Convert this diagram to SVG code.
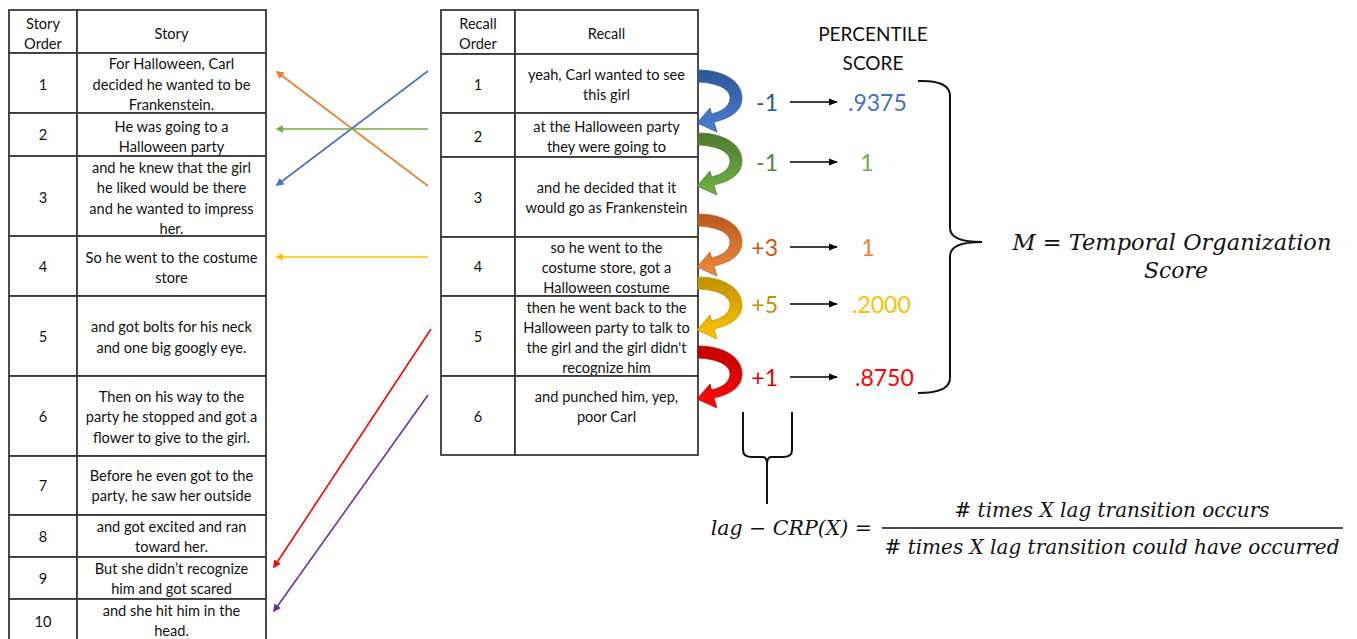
<svg xmlns="http://www.w3.org/2000/svg" width="1357" height="639" viewBox="0 0 1357 639">
<style>
.cell{fill:#fff;stroke:#3a3a3a;stroke-width:1.8}
.t{font-family:Lato,"Liberation Sans",sans-serif;font-size:14.6px;fill:#111;text-anchor:middle;dominant-baseline:central}
.lag{font-family:Lato,"Liberation Sans",sans-serif;font-size:23px;dominant-baseline:central}
.math{font-family:"DejaVu Serif","Liberation Serif",serif;font-style:italic;fill:#111}
.brace{fill:none;stroke:#111;stroke-width:2}
</style>
<defs>
<marker id="ah" viewBox="0 0 10 10" refX="8" refY="5" markerWidth="5" markerHeight="5" orient="auto" markerUnits="strokeWidth"><path d="M0,0 L10,5 L0,10 z" fill="context-stroke"/></marker>
<marker id="bk" viewBox="0 0 10 10" refX="9" refY="5" markerWidth="7" markerHeight="7" orient="auto" markerUnits="strokeWidth"><path d="M0,1 L10,5 L0,9 z" fill="#000"/></marker>
<path id="ca" d="M698,0 C725,0 742,12 742,28 C742,40 732,48 714,52 L717,62 L697,53 L710,38 L711.6,44 C724,41 730,35 730,28 C730,19 718,13 698,12 Z"/>
<linearGradient id="gB" x1="0" y1="0" x2="0" y2="1"><stop offset="0" stop-color="#2F5597"/><stop offset="1" stop-color="#4A80D8"/></linearGradient>
<linearGradient id="gG" x1="0" y1="0" x2="0" y2="1"><stop offset="0" stop-color="#4E7A2F"/><stop offset="1" stop-color="#70B344"/></linearGradient>
<linearGradient id="gO" x1="0" y1="0" x2="0" y2="1"><stop offset="0" stop-color="#B85A1E"/><stop offset="1" stop-color="#F08A3C"/></linearGradient>
<linearGradient id="gY" x1="0" y1="0" x2="0" y2="1"><stop offset="0" stop-color="#BF9000"/><stop offset="1" stop-color="#FFC400"/></linearGradient>
<linearGradient id="gR" x1="0" y1="0" x2="0" y2="1"><stop offset="0" stop-color="#C00000"/><stop offset="1" stop-color="#FF0A0A"/></linearGradient>
</defs>
<rect width="1357" height="639" fill="#fff"/>

<!-- Story table -->
<g id="story-header"><rect class="cell" x="9" y="10" width="68" height="43"/><rect class="cell" x="77" y="10" width="189" height="43"/>
<text class="t" x="43" y="23">Story</text><text class="t" x="43" y="43">Order</text><text class="t" x="171.5" y="33">Story</text></g>
<g id="story-1"><rect class="cell" x="9" y="53" width="68" height="60"/><rect class="cell" x="77" y="53" width="189" height="60"/>
<text class="t" x="43" y="84">1</text><text class="t" x="171.5" y="63">For Halloween, Carl</text><text class="t" x="171.5" y="84">decided he wanted to be</text><text class="t" x="171.5" y="104">Frankenstein.</text></g>
<g id="story-2"><rect class="cell" x="9" y="113" width="68" height="43"/><rect class="cell" x="77" y="113" width="189" height="43"/>
<text class="t" x="43" y="134">2</text><text class="t" x="171.5" y="126">He was going to a</text><text class="t" x="171.5" y="146">Halloween party</text></g>
<g id="story-3"><rect class="cell" x="9" y="156" width="68" height="80"/><rect class="cell" x="77" y="156" width="189" height="80"/>
<text class="t" x="43" y="197">3</text><text class="t" x="171.5" y="167">and he knew that the girl</text><text class="t" x="171.5" y="187">he liked would be there</text><text class="t" x="171.5" y="208">and he wanted to impress</text><text class="t" x="171.5" y="228">her.</text></g>
<g id="story-4"><rect class="cell" x="9" y="236" width="68" height="60"/><rect class="cell" x="77" y="236" width="189" height="60"/>
<text class="t" x="43" y="266">4</text><text class="t" x="171.5" y="257">So he went to the costume</text><text class="t" x="171.5" y="277">store</text></g>
<g id="story-5"><rect class="cell" x="9" y="296" width="68" height="80"/><rect class="cell" x="77" y="296" width="189" height="80"/>
<text class="t" x="43" y="336">5</text><text class="t" x="171.5" y="326">and got bolts for his neck</text><text class="t" x="171.5" y="347">and one big googly eye.</text></g>
<g id="story-6"><rect class="cell" x="9" y="376" width="68" height="80"/><rect class="cell" x="77" y="376" width="189" height="80"/>
<text class="t" x="43" y="416">6</text><text class="t" x="171.5" y="396">Then on his way to the</text><text class="t" x="171.5" y="416">party he stopped and got a</text><text class="t" x="171.5" y="437">flower to give to the girl.</text></g>
<g id="story-7"><rect class="cell" x="9" y="456" width="68" height="59"/><rect class="cell" x="77" y="456" width="189" height="59"/>
<text class="t" x="43" y="485">7</text><text class="t" x="171.5" y="475">Before he even got to the</text><text class="t" x="171.5" y="495">party, he saw her outside</text></g>
<g id="story-8"><rect class="cell" x="9" y="515" width="68" height="42"/><rect class="cell" x="77" y="515" width="189" height="42"/>
<text class="t" x="43" y="536">8</text><text class="t" x="171.5" y="526">and got excited and ran</text><text class="t" x="171.5" y="546">toward her.</text></g>
<g id="story-9"><rect class="cell" x="9" y="557" width="68" height="42"/><rect class="cell" x="77" y="557" width="189" height="42"/>
<text class="t" x="43" y="578">9</text><text class="t" x="171.5" y="568">But she didn’t recognize</text><text class="t" x="171.5" y="588">him and got scared</text></g>
<g id="story-10"><rect class="cell" x="9" y="599" width="68" height="50"/><rect class="cell" x="77" y="599" width="189" height="50"/>
<text class="t" x="43" y="621">10</text><text class="t" x="171.5" y="610">and she hit him in the</text><text class="t" x="171.5" y="630">head.</text></g>

<!-- Recall table -->
<g id="recall-header"><rect class="cell" x="441" y="10" width="74" height="44"/><rect class="cell" x="515" y="10" width="183" height="44"/>
<text class="t" x="478" y="23">Recall</text><text class="t" x="478" y="43">Order</text><text class="t" x="606.5" y="33">Recall</text></g>
<g id="recall-1"><rect class="cell" x="441" y="54" width="74" height="59"/><rect class="cell" x="515" y="54" width="183" height="59"/>
<text class="t" x="478" y="84">1</text><text class="t" x="606.5" y="74">yeah, Carl wanted to see</text><text class="t" x="606.5" y="94">this girl</text></g>
<g id="recall-2"><rect class="cell" x="441" y="113" width="74" height="44"/><rect class="cell" x="515" y="113" width="183" height="44"/>
<text class="t" x="478" y="136">2</text><text class="t" x="606.5" y="126">at the Halloween party</text><text class="t" x="606.5" y="146">they were going to</text></g>
<g id="recall-3"><rect class="cell" x="441" y="157" width="74" height="80"/><rect class="cell" x="515" y="157" width="183" height="80"/>
<text class="t" x="478" y="197">3</text><text class="t" x="606.5" y="187">and he decided that it</text><text class="t" x="606.5" y="207">would go as Frankenstein</text></g>
<g id="recall-4"><rect class="cell" x="441" y="237" width="74" height="59"/><rect class="cell" x="515" y="237" width="183" height="59"/>
<text class="t" x="478" y="266">4</text><text class="t" x="606.5" y="247">so he went to the</text><text class="t" x="606.5" y="267">costume store, got a</text><text class="t" x="606.5" y="287">Halloween costume</text></g>
<g id="recall-5"><rect class="cell" x="441" y="296" width="74" height="80"/><rect class="cell" x="515" y="296" width="183" height="80"/>
<text class="t" x="478" y="336">5</text><text class="t" x="606.5" y="307">then he went back to the</text><text class="t" x="606.5" y="327">Halloween party to talk to</text><text class="t" x="606.5" y="347">the girl and the girl didn't</text><text class="t" x="606.5" y="367">recognize him</text></g>
<g id="recall-6"><rect class="cell" x="441" y="376" width="74" height="79"/><rect class="cell" x="515" y="376" width="183" height="79"/>
<text class="t" x="478" y="416">6</text><text class="t" x="606.5" y="396">and punched him, yep,</text><text class="t" x="606.5" y="416">poor Carl</text></g>

<!-- Connectors -->
<g id="connectors" fill="none" stroke-width="1.6">
<line x1="428" y1="186" x2="277" y2="72" stroke="#ED7D31" marker-end="url(#ah)"/>
<line x1="428" y1="71" x2="277" y2="185" stroke="#4472C4" marker-end="url(#ah)"/>
<line x1="428" y1="129" x2="277" y2="129" stroke="#70AD47" marker-end="url(#ah)"/>
<line x1="428" y1="257" x2="277" y2="257" stroke="#FFC000" marker-end="url(#ah)"/>
<line x1="431" y1="329" x2="274" y2="567" stroke="#FF0000" marker-end="url(#ah)"/>
<line x1="428" y1="395" x2="274" y2="611" stroke="#7030A0" marker-end="url(#ah)"/>
<use href="#ca" y="70" fill="url(#gB)" stroke="#2F5597" stroke-width="0.7"/>
<use href="#ca" y="133" fill="url(#gG)" stroke="#4E7A2F" stroke-width="0.7"/>
<use href="#ca" y="214" fill="url(#gO)" stroke="#B85A1E" stroke-width="0.7"/>
<use href="#ca" y="277" fill="url(#gY)" stroke="#BF9000" stroke-width="0.7"/>
<use href="#ca" y="346" fill="url(#gR)" stroke="#C00000" stroke-width="0.7"/>
<g stroke="#000" stroke-width="1.3">
<line x1="790" y1="102" x2="837" y2="102" marker-end="url(#bk)"/>
<line x1="790" y1="162" x2="837" y2="162" marker-end="url(#bk)"/>
<line x1="790" y1="247" x2="837" y2="247" marker-end="url(#bk)"/>
<line x1="790" y1="304" x2="837" y2="304" marker-end="url(#bk)"/>
<line x1="790" y1="377" x2="837" y2="377" marker-end="url(#bk)"/>
</g>
</g>

<!-- Lags and percentile scores -->
<g id="scores">
<text x="873" y="33" font-family="Lato,'Liberation Sans',sans-serif" font-size="19" text-anchor="middle" dominant-baseline="central" fill="#111">PERCENTILE</text>
<text x="873" y="62" font-family="Lato,'Liberation Sans',sans-serif" font-size="19" text-anchor="middle" dominant-baseline="central" fill="#111">SCORE</text>
<text class="lag" x="778" y="102" text-anchor="end" fill="#2F5597">-1</text>
<text class="lag" x="848" y="102" fill="#4472C4">.9375</text>
<text class="lag" x="778" y="162" text-anchor="end" fill="#548235">-1</text>
<text class="lag" x="867" y="162" text-anchor="middle" fill="#70AD47">1</text>
<text class="lag" x="778" y="247" text-anchor="end" fill="#C55A11">+3</text>
<text class="lag" x="868" y="247" text-anchor="middle" fill="#ED7D31">1</text>
<text class="lag" x="778" y="304" text-anchor="end" fill="#BF9000">+5</text>
<text class="lag" x="852" y="304" fill="#FFC000">.2000</text>
<text class="lag" x="778" y="377" text-anchor="end" fill="#E00000">+1</text>
<text class="lag" x="855" y="377" fill="#FF0000">.8750</text>
</g>

<!-- Braces -->
<g id="brace-M">
<path class="brace" d="M918,81 Q950,80 950,96 L950,228 Q950,242 982,242 Q950,242 950,256 L950,378 Q950,393 918,393"/>
<text class="math" x="1172" y="250" font-size="22.5" text-anchor="middle">M = Temporal Organization</text>
<text class="math" x="1176" y="278" font-size="22" text-anchor="middle">Score</text>
</g>
<g id="brace-lag">
<path class="brace" d="M743,412 L743,450 Q743,457 752,457 L763,457 Q767,457 767,465 L767,504 M792,412 L792,450 Q792,457 783,457 L771,457 Q767,457 767,465"/>
</g>
<g id="formula">
<text class="math" x="872" y="535" font-size="20.5" text-anchor="end">lag − CRP(X) =</text>
<text class="math" x="1112" y="517" font-size="20" text-anchor="middle"># times X lag transition occurs</text>
<line x1="882" y1="528" x2="1343" y2="528" stroke="#111" stroke-width="1.5"/>
<text class="math" x="1112" y="554" font-size="20" text-anchor="middle"># times X lag transition could have occurred</text>
</g>
</svg>
